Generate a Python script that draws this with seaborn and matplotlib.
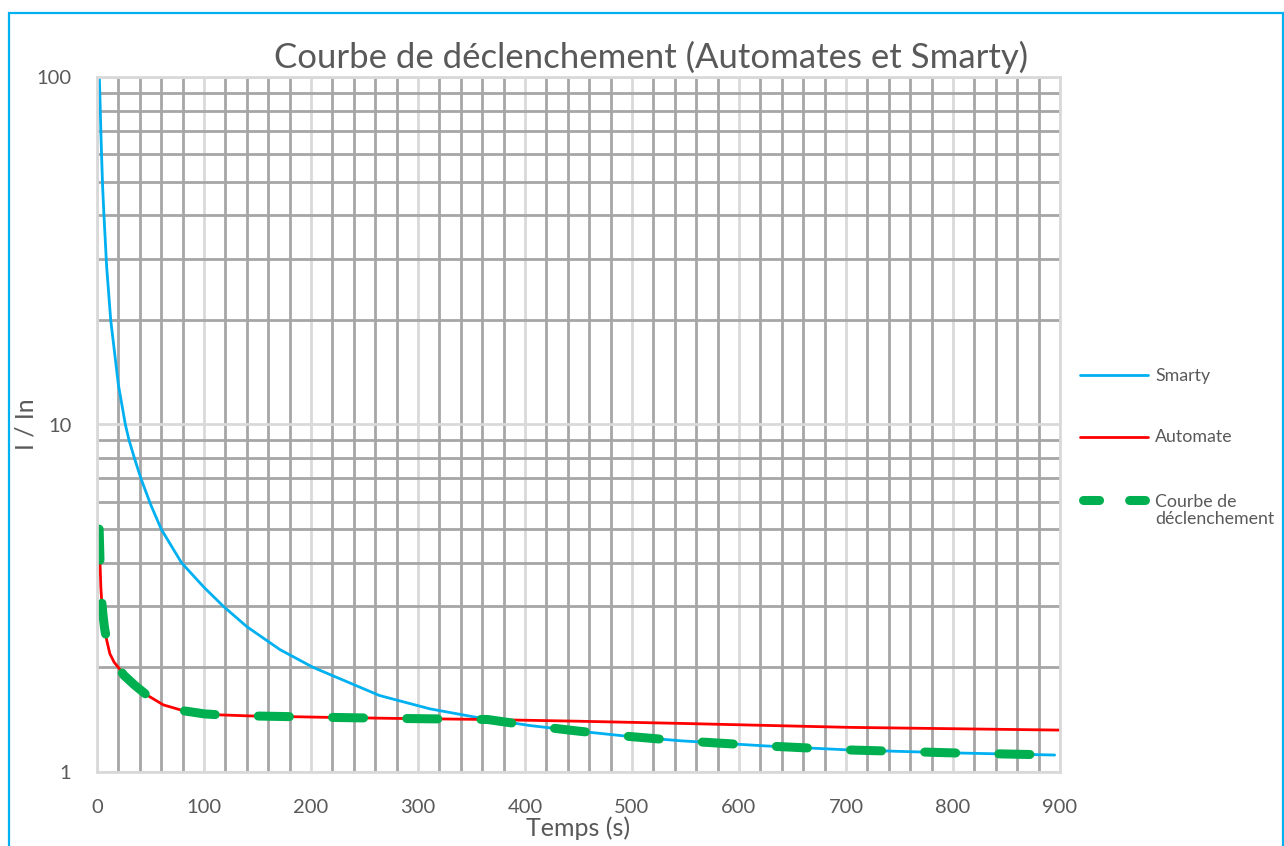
import matplotlib.pyplot as plt
import matplotlib.ticker as mticker
from matplotlib.lines import Line2D
from matplotlib.patches import Rectangle
import seaborn as sns
import pandas as pd

# values (time in s, I/In)
smarty_t = [2.2, 3.0, 3.7, 4.4, 5.3, 6.5, 9, 12.8, 20, 26.5, 30, 35, 41, 50, 60, 79,
            100, 118, 140, 171, 202, 264, 311, 358, 405, 451, 498, 545, 626, 704, 800, 895]
smarty_y = [100, 82, 68, 58, 48, 40, 28.5, 20, 13, 10, 9, 8, 7, 5.9, 5, 4,
            3.4, 3.0, 2.62, 2.25, 2.0, 1.66, 1.52, 1.43, 1.36, 1.31, 1.265, 1.23, 1.188, 1.157, 1.135, 1.119]

automate_t = [2.0, 2.5, 3.0, 3.6, 4.4, 5.5, 7, 9, 12, 16, 21, 25, 35, 46, 62, 81,
              100, 115, 143, 171, 212, 274, 358, 450, 545, 704, 900]
automate_y = [5.0, 4.4, 3.85, 3.4, 3.1, 2.85, 2.6, 2.4, 2.19, 2.07, 1.98, 1.90, 1.78, 1.67, 1.56, 1.50,
              1.47, 1.46, 1.45, 1.445, 1.437, 1.427, 1.417, 1.40, 1.38, 1.344, 1.32]

courbe_t = [2.0, 2.5, 3.0, 3.6, 4.4, 5.5, 7, 9, 12, 16, 21, 25, 35, 46, 62, 81,
            100, 115, 143, 171, 212, 274, 365, 405, 451, 498, 545, 626, 704, 800, 895]
courbe_y = [5.0, 4.4, 3.85, 3.4, 3.1, 2.85, 2.6, 2.4, 2.19, 2.07, 1.98, 1.90, 1.78, 1.67, 1.56, 1.50,
            1.47, 1.46, 1.45, 1.445, 1.437, 1.427, 1.416, 1.36, 1.31, 1.265, 1.23, 1.188, 1.157, 1.135, 1.119]

x_ticks = [0, 100, 200, 300, 400, 500, 600, 700, 800, 900]

BLUE = '#00B0F0'
RED = '#FF0000'
GREEN = '#00B050'
TEXT = '#595959'
GRID_MAJOR = '#D9D9D9'
GRID_MINOR = '#A6A6A6'

sns.set_style("white")
plt.rcParams['font.family'] = ['Lato', 'DejaVu Sans']

W, H = 1284, 846
fig = plt.figure(figsize=(W / 100, H / 100), dpi=100)
ax = fig.add_axes([97 / W, 74 / H, 963 / W, 695 / H])

df_s = pd.DataFrame({'t': smarty_t, 'y': smarty_y})
df_a = pd.DataFrame({'t': automate_t, 'y': automate_y})
df_c = pd.DataFrame({'t': courbe_t, 'y': courbe_y})

sns.lineplot(data=df_s, x='t', y='y', ax=ax, color=BLUE, lw=2.0, estimator=None, sort=False)
sns.lineplot(data=df_a, x='t', y='y', ax=ax, color=RED, lw=2.0, estimator=None, sort=False)
sns.lineplot(data=df_c, x='t', y='y', ax=ax, color=GREEN, lw=6.5, estimator=None, sort=False,
             linestyle=(0, (3.44, 4.78)), dash_capstyle='round')

ax.set_yscale('log')
ax.set_xlim(0, 900)
ax.set_ylim(1, 100)
ax.set_xticks(x_ticks)
ax.xaxis.set_minor_locator(mticker.MultipleLocator(20))
ax.yaxis.set_major_locator(mticker.LogLocator(base=10))
ax.yaxis.set_minor_locator(mticker.LogLocator(base=10, subs=range(2, 10)))
ax.yaxis.set_major_formatter(mticker.FuncFormatter(lambda v, p: f'{v:g}'))
ax.yaxis.set_minor_formatter(mticker.NullFormatter())

ax.set_axisbelow(True)
ax.grid(which='minor', color=GRID_MINOR, lw=2.0)
ax.grid(which='major', color=GRID_MAJOR, lw=2.0)
for s in ax.spines.values():
    s.set_color(GRID_MAJOR)
    s.set_linewidth(2.0)

ax.tick_params(which='both', length=0, labelsize=14.5, labelcolor=TEXT)
ax.tick_params(axis='x', pad=19.5)
ax.tick_params(axis='y', pad=18.5)

ax.set_xlabel('Temps (s)', fontsize=18, color=TEXT)
ax.xaxis.set_label_coords(0.5, -0.064)
ax.set_ylabel('I / In', fontsize=18, color=TEXT)
ax.yaxis.set_label_coords(-0.0613, 0.5)

fig.text(651 / W, 1 - 57 / H, 'Courbe de déclenchement (Automates et Smarty)',
         ha='center', va='center', fontsize=25, color=TEXT)

# legend drawn by hand to follow the reference spacing
def fx(px):
    return px / W


def fy(py):
    return 1 - py / H


fig.add_artist(Line2D([fx(1080), fx(1148)], [fy(375), fy(375)], color=BLUE, lw=2.0))
fig.add_artist(Line2D([fx(1080), fx(1148)], [fy(437), fy(437)], color=RED, lw=2.0))
fig.add_artist(Line2D([fx(1082.5), fx(1144.5)], [fy(500), fy(500)], color=GREEN, lw=6.5,
                      linestyle=(0, (1.78, 3.33)), dash_capstyle='round'))
fig.text(fx(1155), fy(376), 'Smarty', ha='left', va='center', fontsize=12.8, color=TEXT)
fig.text(fx(1155), fy(437), 'Automate', ha='left', va='center', fontsize=12.8, color=TEXT)
fig.text(fx(1155), fy(510.5), 'Courbe de\ndéclenchement', ha='left', va='center',
         fontsize=12.8, color=TEXT, linespacing=1.15)

# outer chart frame
fig.patches.append(Rectangle((9 / W, -0.1), (1283 - 9) / W, 0.1 + 1 - 13 / H,
                             transform=fig.transFigure, fill=False,
                             edgecolor=BLUE, lw=1.6))

fig.savefig('out.png', dpi=100)
